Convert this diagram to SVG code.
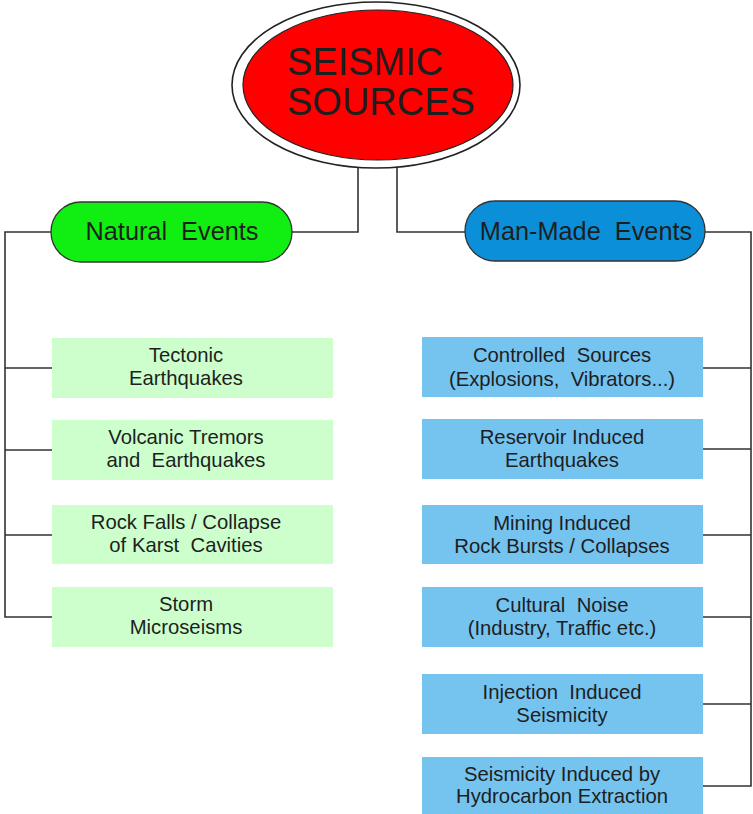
<svg xmlns="http://www.w3.org/2000/svg" width="753" height="814" viewBox="0 0 753 814">
<style>
text{font-family:"Liberation Sans",Arial,sans-serif;fill:#1e1e1e;white-space:pre}
.conn{fill:none;stroke:#333;stroke-width:1.6}
.pill{stroke:#333;stroke-width:1.3}
.box{font-size:20.3px;text-anchor:middle}
.nat{fill:#ccffcc}
.man{fill:#75c3ef}
</style>
<rect width="753" height="814" fill="#fff"/>
<g id="connectors">
<path class="conn" d="M358,166 V232 H291"/>
<path class="conn" d="M397,166 V232 H466"/>
<path class="conn" d="M51,232 H5 V617 H52"/>
<path class="conn" d="M5,368 H52 M5,450 H52 M5,535 H52"/>
<path class="conn" d="M705,232 H751 V786 H703"/>
<path class="conn" d="M703,368 H751 M703,449 H751 M703,535 H751 M703,617 H751 M703,704 H751"/>
</g>
<g id="root">
<ellipse cx="376" cy="85" rx="144" ry="83" fill="#fff" stroke="#222" stroke-width="1.6"/>
<ellipse cx="378" cy="85" rx="135" ry="75" fill="#ff0000" stroke="#222" stroke-width="1.2"/>
<text x="287" y="75" font-size="38">SEISMIC</text>
<text x="287" y="115" font-size="38">SOURCES</text>
</g>
<g id="natural">
<rect class="pill" x="51" y="202" width="241" height="60" rx="30" fill="#11ee11"/>
<text x="172" y="240" font-size="25.3" text-anchor="middle">Natural  Events</text>
</g>
<g id="manmade">
<rect class="pill" x="465" y="201" width="240" height="60" rx="30" fill="#0b8fd9"/>
<text x="586" y="240" font-size="25.3" text-anchor="middle">Man-Made  Events</text>
</g>
<g id="n1"><rect class="nat" x="52" y="338" width="281" height="60"/>
<text class="box" x="186" y="362">Tectonic</text><text class="box" x="186" y="385">Earthquakes</text></g>
<g id="n2"><rect class="nat" x="52" y="420" width="281" height="60"/>
<text class="box" x="186" y="444">Volcanic Tremors</text><text class="box" x="186" y="467">and  Earthquakes</text></g>
<g id="n3"><rect class="nat" x="52" y="505" width="281" height="59"/>
<text class="box" x="186" y="529">Rock Falls / Collapse</text><text class="box" x="186" y="552">of Karst  Cavities</text></g>
<g id="n4"><rect class="nat" x="52" y="587" width="281" height="60"/>
<text class="box" x="186" y="611">Storm</text><text class="box" x="186" y="634">Microseisms</text></g>
<g id="m1"><rect class="man" x="422" y="337" width="281" height="60"/>
<text class="box" x="562" y="362">Controlled  Sources</text><text class="box" x="562" y="386">(Explosions,  Vibrators...)</text></g>
<g id="m2"><rect class="man" x="422" y="419" width="281" height="60"/>
<text class="box" x="562" y="444">Reservoir Induced</text><text class="box" x="562" y="467">Earthquakes</text></g>
<g id="m3"><rect class="man" x="422" y="505" width="281" height="59"/>
<text class="box" x="562" y="530">Mining Induced</text><text class="box" x="562" y="553">Rock Bursts / Collapses</text></g>
<g id="m4"><rect class="man" x="422" y="587" width="281" height="60"/>
<text class="box" x="562" y="612">Cultural  Noise</text><text class="box" x="562" y="635">(Industry, Traffic etc.)</text></g>
<g id="m5"><rect class="man" x="422" y="674" width="281" height="60"/>
<text class="box" x="562" y="699">Injection  Induced</text><text class="box" x="562" y="722">Seismicity</text></g>
<g id="m6"><rect class="man" x="422" y="757" width="281" height="57"/>
<text class="box" x="562" y="781">Seismicity Induced by</text><text class="box" x="562" y="803">Hydrocarbon Extraction</text></g>
</svg>
